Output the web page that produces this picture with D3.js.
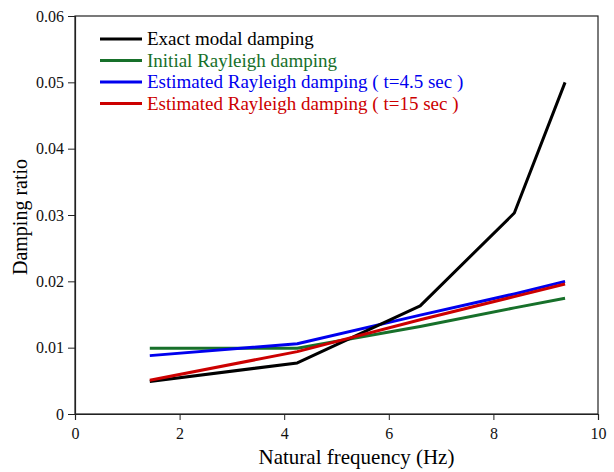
<!DOCTYPE html>
<html lang="en">
<head>
<meta charset="utf-8">
<script src="https://d3js.org/d3.v7.min.js"></script>
<style>
  body { margin: 0; background: #fff; }
  text { font-family: "Liberation Serif", "Times New Roman", serif; }
</style>
</head>
<body>
<div id="chart"></div>
<script>
// natural frequencies (Hz) of the modes
var freq = [1.43, 4.25, 6.6, 8.4, 9.37];

var exactModal    = [0.0049, 0.0077, 0.0163, 0.0303, 0.0500];
var initRayleigh  = [0.0099, 0.0099, 0.0132, 0.0160, 0.01745];
var estRayleigh45 = [0.0088, 0.0106, 0.0149, 0.0181, 0.0200];
var estRayleigh15 = [0.0051, 0.0094, 0.0142, 0.0177, 0.0196];

var seriesNames = ["Exact modal damping", "Initial Rayleigh damping",
                   "Estimated Rayleigh damping ( t=4.5 sec )",
                   "Estimated Rayleigh damping ( t=15 sec )"];
var seriesColors = ["#000000", "#17702a", "#0000ee", "#cc0000"];

var xTicks = [0, 2, 4, 6, 8, 10];
var yTicks = [0, 0.01, 0.02, 0.03, 0.04, 0.05, 0.06];

var W = 614, H = 472;
var margin = {top: 16, right: 16, bottom: 58, left: 75};
var width = W - margin.left - margin.right,
    height = H - margin.top - margin.bottom;

var svg = d3.select("#chart").append("svg")
    .attr("width", W)
    .attr("height", H)
  .append("g")
    .attr("transform", `translate(${margin.left},${margin.top})`);

var x = d3.scaleLinear().domain([0, 10]).range([0, width]);
var y = d3.scaleLinear().domain([0, 0.06]).range([height, 0]);

// frame
svg.append("rect")
   .attr("width", width).attr("height", height)
   .attr("fill", "none").attr("stroke", "#222").attr("stroke-width", 1.2);

var xAxis = svg.append("g")
   .attr("transform", `translate(0,${height})`)
   .call(d3.axisBottom(x).tickValues(xTicks).tickSize(6).tickFormat(d3.format("d")));
var yAxis = svg.append("g")
   .call(d3.axisLeft(y).tickValues(yTicks).tickSize(7).tickPadding(4)
         .tickFormat(function(d){ return d === 0 ? "0" : d3.format(".2f")(d); }));

[xAxis, yAxis].forEach(function(a){
  a.select(".domain").attr("stroke", "#222").attr("stroke-width", 1.2);
  a.selectAll(".tick line").attr("stroke", "#222");
  a.selectAll("text").attr("font-size", "16px").attr("fill", "#111")
   .style("font-family", "'Liberation Serif', serif");
});
xAxis.selectAll("text").attr("dy", "1.0em");

// axis titles
svg.append("text")
   .attr("x", width / 2 + 20).attr("y", height + 50)
   .attr("text-anchor", "middle")
   .attr("font-size", "21px")
   .text("Natural frequency (Hz)");

svg.append("text")
   .attr("transform", `translate(${-48},${height / 2 + 2}) rotate(-90)`)
   .attr("text-anchor", "middle")
   .attr("font-size", "20px")
   .text("Damping ratio");

var allSeries = [exactModal, initRayleigh, estRayleigh45, estRayleigh15];

var line = d3.line()
   .x(function(d, i){ return x(freq[i]); })
   .y(function(d){ return y(d); });

// draw green first, then others so black/red end on top like the original
var order = [1, 2, 0, 3];
order.forEach(function(k){
  svg.append("path")
     .datum(allSeries[k])
     .attr("fill", "none")
     .attr("stroke", seriesColors[k])
     .attr("stroke-width", 3)
     .attr("stroke-linejoin", "round")
     .attr("d", line);
});

// legend
var legend = svg.append("g").attr("transform", "translate(25,23)");
seriesNames.forEach(function(name, i){
  var row = legend.append("g").attr("transform", `translate(0,${i * 21.5})`);
  row.append("line")
     .attr("x1", 0).attr("x2", 42).attr("y1", 0).attr("y2", 0)
     .attr("stroke", seriesColors[i]).attr("stroke-width", 3);
  row.append("text")
     .attr("x", 47).attr("y", 6)
     .attr("font-size", "19px")
     .attr("fill", seriesColors[i])
     .text(name);
});
</script>
</body>
</html>
